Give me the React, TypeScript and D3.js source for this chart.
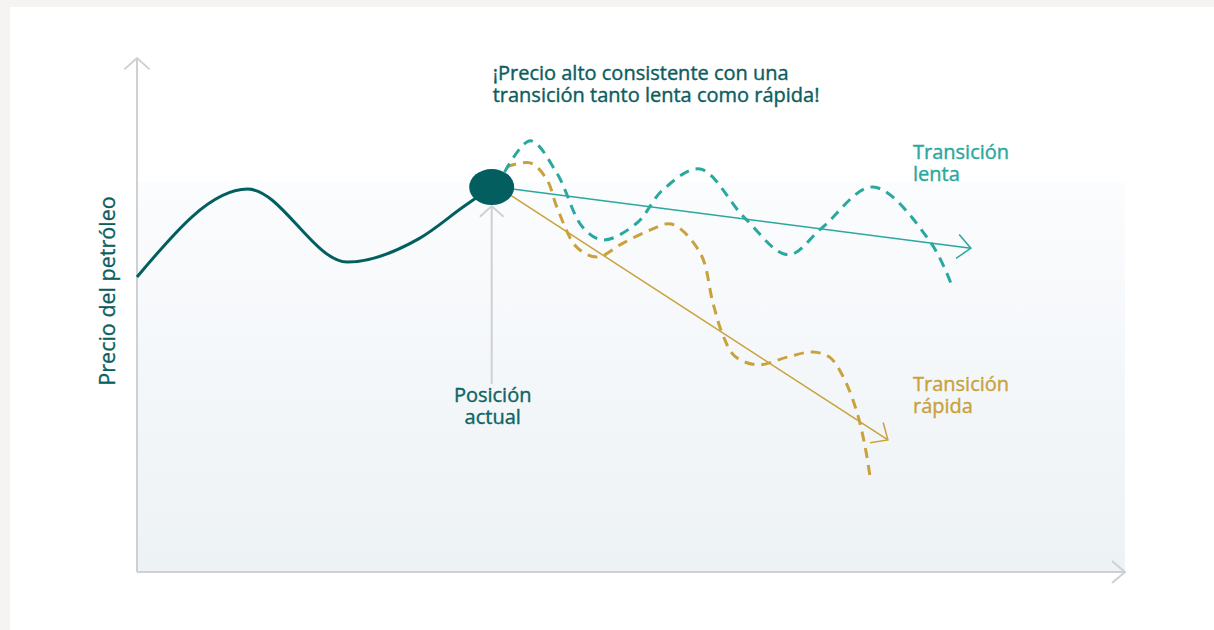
import React from "react";
import * as d3 from "d3";

// Data in abstract units: x = time (0-100), y = oil price index (0-100)
const historyX = [0, 11.2, 21.3, 28.5, 33.0, 35.9];
const historyY = [57.4, 74.5, 60.3, 64.8, 71.0, 74.9];

const slowX = [37.2, 39.8, 42.5, 45.1, 47.2, 50.6, 53.2, 57.0, 61.5, 65.9, 69.3, 74.5, 80.3, 82.6];
const slowY = [77.8, 83.9, 77.6, 67.1, 64.6, 67.9, 74.3, 78.4, 68.9, 61.7, 66.9, 74.9, 64.2, 55.1];

const fastX = [37.4, 39.8, 41.5, 42.5, 44.5, 46.6, 49.2, 51.9, 54.1, 57.0, 58.3, 59.3, 60.5, 62.8, 65.8, 68.4, 70.1, 71.5, 72.9, 73.7, 74.2];
const fastY = [78.8, 79.6, 76.3, 71.0, 63.2, 61.3, 64.0, 66.5, 67.7, 62.1, 52.3, 46.1, 42.0, 40.3, 41.8, 42.8, 41.8, 37.9, 30.9, 24.3, 18.5];

const currentPos = { x: 35.9, y: 74.9 };
const slowTrendX = [38.0, 84.4];
const slowTrendY = [74.5, 63.0];
const fastTrendX = [37.8, 76.0];
const fastTrendY = [73.3, 25.7];
const posArrowY = [36.6, 71.2]; // bottom, top of the "current position" pointer

const titleLines = ["¡Precio alto consistente con una", "transición tanto lenta como rápida!"];
const posLabel = ["Posición", "actual"];
const slowLabel = ["Transición", "lenta"];
const fastLabel = ["Transición", "rápida"];
const yAxisLabel = "Precio del petróleo";

const W = 1214;
const H = 630;
const FONT = "'Open Sans', 'Noto Sans', sans-serif";

const C_DARK = "#035f5f";
const C_SLOW = "#2aa89e";
const C_FAST = "#c9a23c";
const C_AXIS = "#cfd0d2";

const x = d3.scaleLinear().domain([0, 100]).range([137, 1125]);
const y = d3.scaleLinear().domain([0, 100]).range([572, 58]);

function zip(xs: number[], ys: number[]): [number, number][] {
  return xs.map((v, i) => [x(v), y(ys[i])]);
}

function arrowHead(tip: [number, number], from: [number, number], len: number, angDeg: number) {
  const dx = from[0] - tip[0];
  const dy = from[1] - tip[1];
  const a = Math.atan2(dy, dx);
  const r = (angDeg * Math.PI) / 180;
  const p1 = [tip[0] + len * Math.cos(a + r), tip[1] + len * Math.sin(a + r)];
  const p2 = [tip[0] + len * Math.cos(a - r), tip[1] + len * Math.sin(a - r)];
  return `M${p1[0]},${p1[1]}L${tip[0]},${tip[1]}L${p2[0]},${p2[1]}`;
}

export default function App() {
  const dashLine = d3.line().curve(d3.curveCatmullRom.alpha(0.5));
  const histLine = d3.line().curve(d3.curveMonotoneX);
  const histPts = zip(historyX, historyY);
  const slowPts = zip(slowX, slowY);
  const fastPts = zip(fastX, fastY);
  const slowT = zip(slowTrendX, slowTrendY);
  const fastT = zip(fastTrendX, fastTrendY);

  const x0 = x(0);
  const y0 = y(0);
  const yTop = y(100);
  const xEnd = x(100);
  const plotTop = y(75.8);

  const cx = x(currentPos.x);
  const cy = y(currentPos.y);
  const FS = 20;
  const medium = (c: string) => ({ fill: c, stroke: c, strokeWidth: 0.4 });

  return (
    <div style={{ position: "fixed", left: 0, top: 0 }}>
      <svg width={W} height={H} style={{ display: "block" }}>
        <defs>
          <linearGradient id="bg" x1="0" y1="0" x2="0" y2="1">
            <stop offset="0" stopColor="#fbfcfe" />
            <stop offset="1" stopColor="#edf2f5" />
          </linearGradient>
        </defs>
        <rect x={0} y={0} width={W} height={H} fill="#f5f4f2" />
        <rect x={10} y={7} width={W - 10} height={H - 7} fill="#ffffff" />
        <rect x={x0} y={plotTop} width={xEnd - x0} height={y0 - plotTop} fill="url(#bg)" />

        {/* axes */}
        <line x1={x0} y1={y0} x2={x0} y2={yTop} stroke={C_AXIS} strokeWidth={2} />
        <path d={arrowHead([x0, yTop], [x0, y0], 17, 48)} fill="none" stroke={C_AXIS} strokeWidth={2} />
        <line x1={x0} y1={y0} x2={xEnd} y2={y0} stroke={C_AXIS} strokeWidth={2} />
        <path d={arrowHead([xEnd, y0], [x0, y0], 17, 40)} fill="none" stroke={C_AXIS} strokeWidth={2} />

        {/* current position pointer */}
        <line x1={cx} y1={y(posArrowY[0])} x2={cx} y2={y(posArrowY[1])} stroke={C_AXIS} strokeWidth={2} />
        <path d={arrowHead([cx, y(posArrowY[1])], [cx, y(posArrowY[0])], 16, 48)} fill="none" stroke={C_AXIS} strokeWidth={2} />

        {/* trend lines */}
        <line x1={slowT[0][0]} y1={slowT[0][1]} x2={slowT[1][0]} y2={slowT[1][1]} stroke={C_SLOW} strokeWidth={1.5} />
        <path d={arrowHead(slowT[1], slowT[0], 18, 42)} fill="none" stroke={C_SLOW} strokeWidth={1.5} />
        <line x1={fastT[0][0]} y1={fastT[0][1]} x2={fastT[1][0]} y2={fastT[1][1]} stroke={C_FAST} strokeWidth={1.5} />
        <path d={arrowHead(fastT[1], fastT[0], 18, 42)} fill="none" stroke={C_FAST} strokeWidth={1.5} />

        {/* scenario paths */}
        <path d={dashLine(fastPts) || ""} fill="none" stroke={C_FAST} strokeWidth={3} strokeDasharray="10 7" />
        <path d={dashLine(slowPts) || ""} fill="none" stroke={C_SLOW} strokeWidth={3} strokeDasharray="10 7" />

        {/* history */}
        <path d={histLine(histPts) || ""} fill="none" stroke={C_DARK} strokeWidth={3} />
        <ellipse cx={cx} cy={cy} rx={22.5} ry={18} fill={C_DARK} />

        {/* texts */}
        <text x={x(36.0)} y={80} fontFamily={FONT} fontSize={FS} {...medium("#0b5e5e")}>
          {titleLines.map((t, i) => (
            <tspan key={i} x={x(36.0)} dy={i === 0 ? 0 : 21.5}>{t}</tspan>
          ))}
        </text>
        <text x={cx} y={402} textAnchor="middle" fontFamily={FONT} fontSize={FS} {...medium("#0f6464")}>
          {posLabel.map((t, i) => (
            <tspan key={i} x={cx + 1} dy={i === 0 ? 0 : 22}>{t}</tspan>
          ))}
        </text>
        <text x={913} y={159} fontFamily={FONT} fontSize={FS} {...medium(C_SLOW)}>
          {slowLabel.map((t, i) => (
            <tspan key={i} x={913} dy={i === 0 ? 0 : 22}>{t}</tspan>
          ))}
        </text>
        <text x={913} y={391} fontFamily={FONT} fontSize={FS} {...medium(C_FAST)}>
          {fastLabel.map((t, i) => (
            <tspan key={i} x={913} dy={i === 0 ? 0 : 22}>{t}</tspan>
          ))}
        </text>
        <text
          transform={`translate(115, 291) rotate(-90)`}
          textAnchor="middle"
          fontFamily={FONT}
          fontSize={21.5}
          {...medium("#0b5e5e")}
          strokeWidth={0.3}
        >
          {yAxisLabel}
        </text>
      </svg>
    </div>
  );
}
